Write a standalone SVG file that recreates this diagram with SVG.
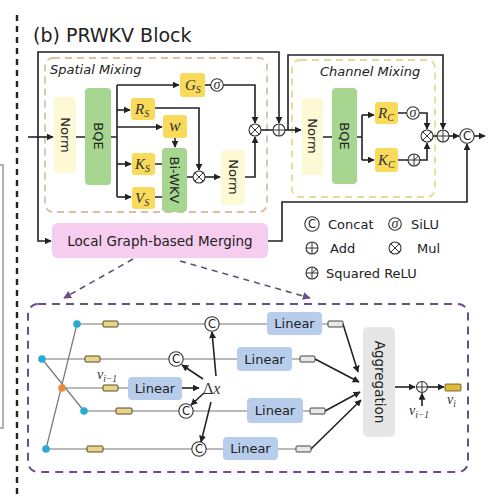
<svg xmlns="http://www.w3.org/2000/svg" width="500" height="498" viewBox="0 0 500 498">
<style>
.ln{fill:none;stroke:#222;stroke-width:1.6}
.gl{fill:none;stroke:#777;stroke-width:1.2}
.ar{fill:none;stroke:#222;stroke-width:1.6;marker-end:url(#ah)}
.yb{fill:#f9da5a;stroke:none}
.gb{fill:#a6d68f;stroke:none}
.nb{fill:#fcf9d4;stroke:none}
.lb{fill:#b7cdeb;stroke:none}
.sym{fill:#fff;stroke:#333;stroke-width:1.1}
.sf{font-family:"DejaVu Sans","Noto Sans",sans-serif;fill:#222}
.mt{font-family:"Liberation Serif",serif;font-style:italic;fill:#333}
.ys{fill:#e8d48a;stroke:#5a4a20;stroke-width:1}
.gs{fill:#e8e8e8;stroke:#444;stroke-width:1}
.bn{fill:#2aa9d3}
</style>
<defs>
<marker id="ah" viewBox="0 0 10 10" refX="9" refY="5" markerWidth="7" markerHeight="7" markerUnits="userSpaceOnUse" orient="auto"><path d="M0,0 L10,5 L0,10 z" fill="#222"/></marker>
<marker id="ahp" viewBox="0 0 10 10" refX="9" refY="5" markerWidth="8" markerHeight="8" markerUnits="userSpaceOnUse" orient="auto"><path d="M0,0 L10,5 L0,10 z" fill="#6b4f8c"/></marker>
<g id="mul"><circle r="6" class="sym"/><path d="M-4.2,-4.2 L4.2,4.2 M-4.2,4.2 L4.2,-4.2" stroke="#333" stroke-width="1"/></g>
<g id="add"><circle r="6" class="sym"/><path d="M-6,0 H6 M0,-6 V6" stroke="#333" stroke-width="1"/></g>
<g id="sig"><circle r="6.3" class="sym"/><text y="4" text-anchor="middle" font-size="14" class="mt">σ</text></g>
<g id="sqr"><circle r="6" class="sym"/><path d="M-6,0 H6 M0,-6 V6 M0,0 L4,-3.5" stroke="#333" stroke-width="1"/></g>
<g id="cat"><circle r="7.2" class="sym"/><text y="4.3" text-anchor="middle" font-size="11.5" class="sf">C</text></g>
</defs>
<rect width="500" height="498" fill="#fff"/>
<path d="M0,165 H3 V428 H0" fill="none" stroke="#999" stroke-width="1.5"/>
<path d="M17,15 V498" stroke="#222" stroke-width="2.4" stroke-dasharray="6,5"/>
<text x="33" y="42" font-size="19" class="sf">(b) PRWKV Block</text>

<g id="spatial-mixing">
<rect x="45" y="58" width="222" height="154" rx="8" fill="none" stroke="#dcbfa2" stroke-width="1.8" stroke-dasharray="7,5"/>
<text x="50" y="74" font-size="13" font-style="italic" class="sf">Spatial Mixing</text>
</g>
<g id="channel-mixing">
<rect x="292" y="60" width="143" height="137" rx="8" fill="none" stroke="#e3dc94" stroke-width="1.8" stroke-dasharray="7,5"/>
<text x="320" y="76" font-size="13" font-style="italic" class="sf">Channel Mixing</text>
</g>

<g id="connectors">
<path class="ar" d="M28,137 H53"/>
<path class="ar" d="M38,137 V52 H279 V123"/>
<path class="ar" d="M38,137 V241 H51"/>
<path class="ln" d="M76,137 H85 M111,137 H117 M117,85 V197"/>
<path class="ar" d="M117,85 H179"/>
<path class="ar" d="M117,110 H130"/>
<path class="ar" d="M117,127 H162"/>
<path class="ar" d="M117,164 H131"/>
<path class="ar" d="M117,197 H131"/>
<path class="ln" d="M205,85 H211"/>
<path class="ar" d="M223,85 H255 V123"/>
<path class="ar" d="M155,108 H199 V170"/>
<path class="ar" d="M175,138 V147"/>
<path class="ln" d="M155,164 H162 M155,197 H162 M187,177 H193"/>
<path class="ar" d="M205,177 H220"/>
<path class="ar" d="M245,177 H255 V137"/>
<path class="ln" d="M261,130 H273"/>
<path class="ar" d="M285,130 H301"/>
<path class="ar" d="M288,130 V55 H443 V129"/>
<path class="ln" d="M323,137 H332 M357,137 H362 M362,115 V160"/>
<path class="ar" d="M362,115 H374"/>
<path class="ar" d="M362,160 H374"/>
<path class="ln" d="M398,113 H407 M398,160 H408 M433,136 H437"/>
<path class="ar" d="M419,113 H427 V129"/>
<path class="ar" d="M420,160 H427 V143"/>
<path class="ar" d="M449,136 H459"/>
<path class="ar" d="M474,136 H485"/>
<path class="ar" d="M268,241 H282 V202 H467 V144"/>
<path d="M133,259 L64,298" fill="none" stroke="#5e5470" stroke-width="1.6" stroke-dasharray="6,5" marker-end="url(#ahp)"/>
<path d="M180,261 L310,298" fill="none" stroke="#5e5470" stroke-width="1.6" stroke-dasharray="6,5" marker-end="url(#ahp)"/>
<path class="gl" d="M77,324 L46,449 M42,359 L84,411"/>
<path class="gl" d="M77,324 H267 M322,324 H328 M42,359 H237 M292,359 H300 M62,388 H128 M84,411 H247 M303,411 H310 M46,449 H223 M278,449 H296"/>
<path class="ar" d="M182,388 H199"/>
<path class="ar" d="M216,376 L212,332"/>
<path class="ar" d="M203,379 L182,365"/>
<path class="ar" d="M204,393 L191,405"/>
<path class="ar" d="M211,402 L201,442"/>
<path class="ar" d="M343,324 L358,372"/>
<path class="ar" d="M315,359 L359,382"/>
<path class="ar" d="M325,411 L360,392"/>
<path class="ar" d="M311,449 L361,400"/>
<path class="ar" d="M395,387 H415"/>
<path class="ar" d="M427.5,387 H444"/>
<path class="ar" d="M422,406 V393.5"/>
</g>

<g id="norm-s1"><rect class="nb" x="54" y="97" width="22" height="76" rx="3"/><text transform="translate(65,135) rotate(90)" text-anchor="middle" y="4.5" font-size="13" class="sf">Norm</text></g>
<g id="bqe-s"><rect class="gb" x="85" y="88" width="26" height="97" rx="4"/><text transform="translate(98,136) rotate(90)" text-anchor="middle" y="4.5" font-size="13" class="sf">BQE</text></g>
<g id="gs"><rect class="yb" x="180" y="73" width="25" height="24" rx="3"/><text x="185" y="90" font-size="15" class="mt">G<tspan font-size="10" dy="3">S</tspan></text></g>
<g id="sigma-s"><use href="#sig" x="217" y="85"/></g>
<g id="rs"><rect class="yb" x="131" y="98" width="24" height="22" rx="3"/><text x="135" y="114" font-size="15" class="mt">R<tspan font-size="10" dy="3">S</tspan></text></g>
<g id="w"><rect class="yb" x="163" y="115" width="24" height="23" rx="3"/><text x="175" y="131" text-anchor="middle" font-size="17" class="mt">w</text></g>
<g id="ks"><rect class="yb" x="132" y="153" width="23" height="22" rx="3"/><text x="135" y="169" font-size="15" class="mt">K<tspan font-size="10" dy="3">S</tspan></text></g>
<g id="vs"><rect class="yb" x="132" y="187" width="23" height="22" rx="3"/><text x="135" y="203" font-size="15" class="mt">V<tspan font-size="10" dy="3">S</tspan></text></g>
<g id="biwkv"><rect class="gb" x="162" y="148" width="25" height="64" rx="4"/><text transform="translate(174.5,180) rotate(90)" text-anchor="middle" y="4.5" font-size="13" class="sf">Bi-WKV</text></g>
<g id="mul-s1"><use href="#mul" x="199" y="177"/></g>
<g id="norm-s2"><rect class="nb" x="221" y="150" width="24" height="55" rx="3"/><text transform="translate(233,177) rotate(90)" text-anchor="middle" y="4.5" font-size="13" class="sf">Norm</text></g>
<g id="mul-s2"><use href="#mul" x="255" y="130"/></g>
<g id="add-s"><use href="#add" x="279" y="130"/></g>

<g id="norm-c"><rect class="nb" x="302" y="98" width="21" height="77" rx="3"/><text transform="translate(312.5,136) rotate(90)" text-anchor="middle" y="4.5" font-size="13" class="sf">Norm</text></g>
<g id="bqe-c"><rect class="gb" x="332" y="88" width="25" height="96" rx="4"/><text transform="translate(344.5,136) rotate(90)" text-anchor="middle" y="4.5" font-size="13" class="sf">BQE</text></g>
<g id="rc"><rect class="yb" x="375" y="102" width="23" height="22" rx="3"/><text x="378" y="118" font-size="15" class="mt">R<tspan font-size="10" dy="3">C</tspan></text></g>
<g id="kc"><rect class="yb" x="375" y="148" width="23" height="24" rx="3"/><text x="378" y="165" font-size="15" class="mt">K<tspan font-size="10" dy="3">C</tspan></text></g>
<g id="sigma-c"><use href="#sig" x="413" y="113"/></g>
<g id="sqrelu-c"><use href="#sqr" x="414" y="160"/></g>
<g id="mul-c"><use href="#mul" x="427" y="136"/></g>
<g id="add-c"><use href="#add" x="443" y="136"/></g>
<g id="cat-c"><use href="#cat" x="467" y="136"/></g>

<g id="lgm"><rect x="52" y="223" width="216" height="35" rx="6" fill="#f7cdef"/><text x="160" y="246" text-anchor="middle" font-size="13.5" class="sf">Local Graph-based Merging</text></g>

<g id="legend">
<use href="#cat" x="312" y="224"/><text x="328" y="229" font-size="13" class="sf">Concat</text>
<use href="#sig" x="395" y="224"/><text x="411" y="229" font-size="13" class="sf">SiLU</text>
<use href="#add" x="312" y="248"/><text x="330" y="253" font-size="13" class="sf">Add</text>
<use href="#mul" x="395" y="248"/><text x="417" y="253" font-size="13" class="sf">Mul</text>
<use href="#sqr" x="312" y="273"/><text x="326" y="278" font-size="13" class="sf">Squared ReLU</text>
</g>

<g id="merging-detail">
<rect x="28" y="304" width="440" height="168" rx="10" fill="none" stroke="#6b4f8c" stroke-width="2" stroke-dasharray="8,6"/>
</g>
<g id="graph-nodes">
<circle class="bn" cx="77" cy="324" r="3.8"/>
<circle class="bn" cx="42" cy="359" r="3.8"/>
<circle class="bn" cx="84" cy="411" r="3.8"/>
<circle class="bn" cx="46" cy="449" r="3.8"/>
<circle cx="62" cy="388" r="3.8" fill="#ee8a3a"/>
<rect class="ys" x="103" y="321" width="15" height="6" rx="1"/>
<rect class="ys" x="85" y="356" width="15" height="6" rx="1"/>
<rect class="ys" x="103" y="385" width="15" height="6" rx="1"/>
<rect class="ys" x="116" y="408" width="16" height="6" rx="1"/>
<rect class="ys" x="87" y="446" width="16" height="6" rx="1"/>
<text x="97" y="379" font-size="14" class="mt">v<tspan font-size="9.5" dy="2.5">i−1</tspan></text>
</g>
<g id="linear-0"><rect class="lb" x="128" y="377" width="54" height="23" rx="4"/><text x="155" y="393" text-anchor="middle" font-size="13" class="sf">Linear</text></g>
<g id="delta-x"><text x="203" y="394" font-size="16" class="mt"><tspan font-style="normal">Δ</tspan>x</text></g>
<g id="cat-1"><use href="#cat" x="212" y="324"/></g>
<g id="cat-2"><use href="#cat" x="176" y="359"/></g>
<g id="cat-3"><use href="#cat" x="186" y="411"/></g>
<g id="cat-4"><use href="#cat" x="199" y="449"/></g>
<g id="linear-1"><rect class="lb" x="267" y="312" width="55" height="23" rx="4"/><text x="294.5" y="328" text-anchor="middle" font-size="13" class="sf">Linear</text></g>
<g id="linear-2"><rect class="lb" x="237" y="347" width="55" height="24" rx="4"/><text x="264.5" y="364" text-anchor="middle" font-size="13" class="sf">Linear</text></g>
<g id="linear-3"><rect class="lb" x="247" y="398" width="56" height="25" rx="4"/><text x="275" y="415" text-anchor="middle" font-size="13" class="sf">Linear</text></g>
<g id="linear-4"><rect class="lb" x="223" y="437" width="55" height="23" rx="4"/><text x="250.5" y="453" text-anchor="middle" font-size="13" class="sf">Linear</text></g>
<g id="outputs">
<rect class="gs" x="328" y="321" width="15" height="6" rx="1"/>
<rect class="gs" x="300" y="356" width="15" height="6" rx="1"/>
<rect class="gs" x="310" y="408" width="15" height="6" rx="1"/>
<rect class="gs" x="296" y="446" width="15" height="6" rx="1"/>
</g>
<g id="aggregation"><rect x="363" y="327" width="32" height="110" rx="5" fill="#e6e6e6"/><text transform="translate(379,382) rotate(90)" text-anchor="middle" y="4.5" font-size="13.5" class="sf">Aggregation</text></g>
<g id="add-out"><circle cx="422" cy="387" r="5.5" class="sym"/><path d="M416.5,387 H427.5 M422,381.5 V392.5" stroke="#333" stroke-width="1"/></g>
<g id="vi"><rect x="445" y="384" width="16" height="7" rx="1" fill="#e0b83a" stroke="#5a4a20" stroke-width="0.8"/><text x="447" y="404" font-size="14" class="mt">v<tspan font-size="9.5" dy="3">i</tspan></text></g>
<g id="vi-1"><text x="409" y="415" font-size="14" class="mt">v<tspan font-size="9.5" dy="3">i−1</tspan></text></g>
</svg>
